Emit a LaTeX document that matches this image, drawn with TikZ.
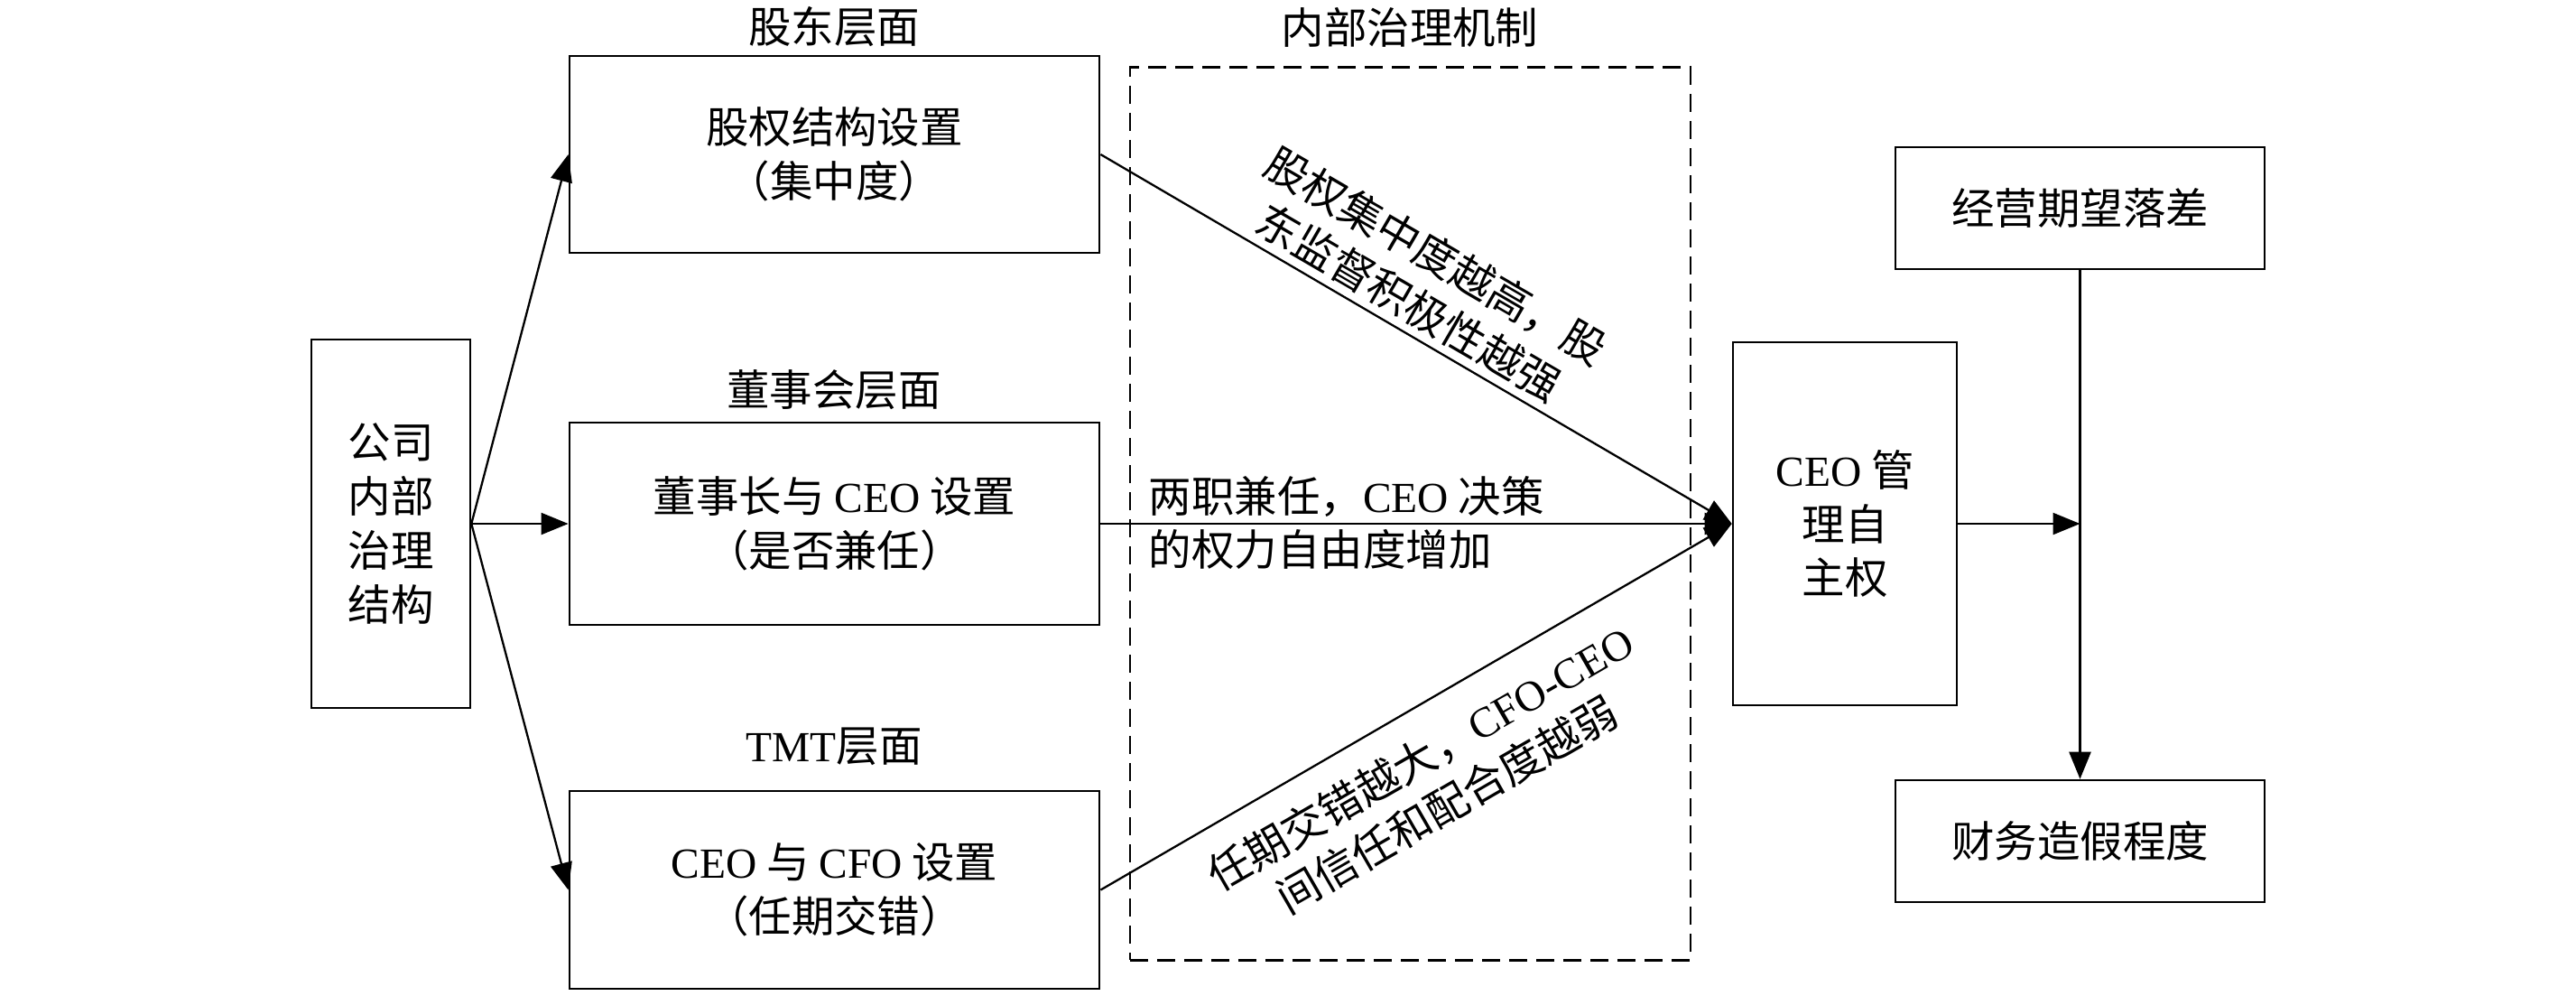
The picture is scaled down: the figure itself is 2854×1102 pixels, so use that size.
\documentclass[tikz,border=0pt]{standalone}
\usepackage{fontspec}
\setmainfont{Liberation Serif}
\newfontfamily\cjk{Noto Sans CJK SC}
\newfontfamily\lat{Liberation Serif}
\usetikzlibrary{arrows.meta}
\begin{document}
\begin{tikzpicture}[x=0.01cm,y=-0.01cm,
  every node/.style={font=\cjk\fontsize{13.5pt}{17pt}\selectfont, inner sep=0pt},
  box/.style={draw, line width=0.7pt, align=center},
  dashbox/.style={draw, line width=0.7pt, dash pattern=on 0.2cm off 0.1cm},
  conn/.style={line width=0.65pt},
  arr/.style={conn, -{Triangle[length=0.3cm,width=0.24cm]}},
  lbl/.style={align=center}]
\useasboundingbox (0,0) rectangle (2854,1102);
\fill[white] (0,0) rectangle (2854,1102);

\node[box, minimum width=1.76cm, minimum height=4.08cm] (lbox) at (433,580) {公司\\内部\\治理\\结构};
\node[box, minimum width=5.87cm, minimum height=2.18cm] (b1) at (924.5,171) {股权结构设置\\（集中度）};
\node[box, minimum width=5.87cm, minimum height=2.24cm] (b2) at (924.5,580) {董事长与 {\lat CEO} 设置\\（是否兼任）};
\node[box, minimum width=5.87cm, minimum height=2.19cm] (b3) at (924.5,985.5) {{\lat CEO} 与 {\lat CFO} 设置\\（任期交错）};
\node[box, minimum width=2.48cm, minimum height=4.02cm] (ceo) at (2044,580) {{\lat CEO} 管\\理自\\主权};
\node[box, minimum width=4.09cm, minimum height=1.35cm] (gap) at (2304.5,230.5) {经营期望落差};
\node[box, minimum width=4.09cm, minimum height=1.35cm] (fraud) at (2304.5,931.5) {财务造假程度};
\node[dashbox, minimum width=6.21cm, minimum height=9.88cm] (mech) at (1562.5,569) {};

\node (h1) at (924,30) {股东层面};
\node (h2) at (924,432) {董事会层面};
\node (h3) at (924,827) {{\lat TMT}层面};
\node (h4) at (1562,30) {内部治理机制};

\node[align=left, anchor=west] (l2) at (1272,579) {两职兼任，{\lat CEO} 决策\\的权力自由度增加};
\node[lbl, rotate=-30.2] (l1) at (1576,309) {股权集中度越高，股\\东监督积极性越强};
\node[lbl, rotate=30] (l3) at (1588,865) {任期交错越大，{\lat CFO-CEO}\\间信任和配合度越弱};

\draw[arr] (lbox.east) -- (b1.west);
\draw[arr] (lbox.east) -- (b2.west);
\draw[arr] (lbox.east) -- (b3.west);
\draw[arr] (b1.east) -- (ceo.west);
\draw[arr] (b2.east) -- (ceo.west);
\draw[arr] (b3.east) -- (ceo.west);
\coordinate (junc) at (gap.south |- ceo.east);
\draw[arr] (ceo.east) -- (junc);
\draw[arr] (gap.south) -- (fraud.north);
\end{tikzpicture}
\end{document}
